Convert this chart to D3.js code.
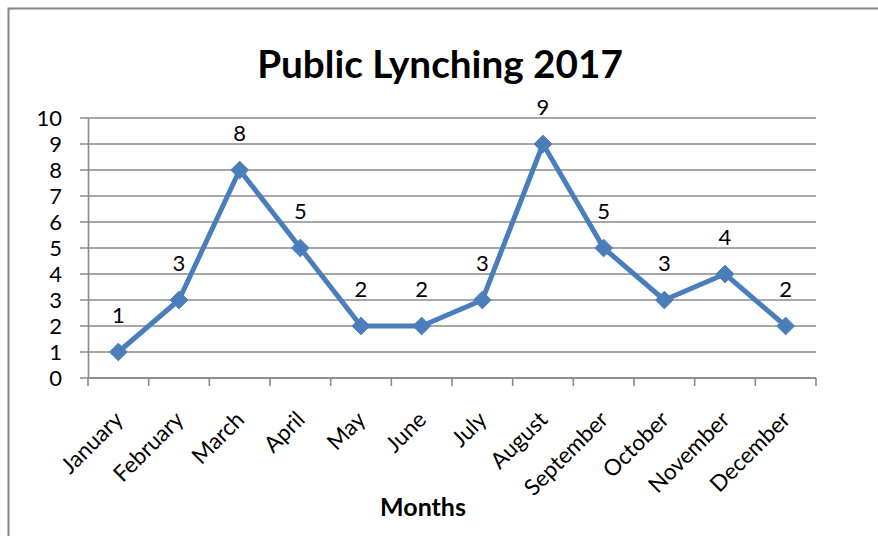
<!DOCTYPE html>
<html><head><meta charset="utf-8">
<script src="https://cdn.jsdelivr.net/npm/d3@7"></script>
<style>html,body{margin:0;padding:0;background:#fff;} svg{display:block;}</style>
</head><body>
<svg id="c" width="878" height="536"></svg>
<script>
const months = ["January","February","March","April","May","June","July","August","September","October","November","December"];
const values = [1,3,8,5,2,2,3,9,5,3,4,2];
const yTicks = [0,1,2,3,4,5,6,7,8,9,10];
const titleText = "Public Lynching 2017";
const xTitle = "Months";

(function(){
const svg = d3.select("#c");
const font = "Lato, 'Open Sans', sans-serif";
const pL = 88, pR = 816, pT = 118, pB = 378;

// frame
svg.append("path").attr("d","M8.5,536 L8.5,8.5 L878,8.5").attr("fill","none").attr("stroke","#868686").attr("stroke-width",2);

const x = d3.scaleBand().domain(months).range([pL,pR]);
const y = d3.scaleLinear().domain([0,10]).range([pB,pT]);

// gridlines
svg.append("g").selectAll("line").data(yTicks).join("line")
  .attr("x1",pL-8).attr("x2",pR).attr("y1",d=>y(d)).attr("y2",d=>y(d))
  .attr("stroke","#8a8a8a").attr("stroke-width",1.6);

// y axis
const ya = svg.append("g").attr("transform",`translate(${pL},0)`)
  .call(d3.axisLeft(y).tickValues(yTicks).tickSize(0).tickPadding(26));
ya.select(".domain").attr("stroke","#8a8a8a").attr("stroke-width",1.6);
ya.selectAll("text").attr("font-family",font).attr("font-size",22).attr("fill","#000");

// x axis
svg.append("line").attr("x1",pL).attr("x2",pR).attr("y1",pB).attr("y2",pB).attr("stroke","#8a8a8a").attr("stroke-width",1.6);
const tickPos = months.map(m=>x(m)).concat([pR]);
svg.append("g").selectAll("line").data(tickPos).join("line")
  .attr("x1",d=>d).attr("x2",d=>d).attr("y1",pB).attr("y2",pB+8)
  .attr("stroke","#8a8a8a").attr("stroke-width",1.6);

// x labels
svg.append("g").selectAll("text").data(months).join("text")
  .attr("transform",d=>`translate(${x(d)+x.bandwidth()/2+6},${pB+43}) rotate(-45)`)
  .attr("text-anchor","end").attr("font-family",font).attr("font-size",22.5).attr("fill","#000")
  .text(d=>d);

// line
const cx = i=>x(months[i])+x.bandwidth()/2;
svg.append("path").datum(values)
  .attr("d",d3.line().x((d,i)=>cx(i)).y(d=>y(d)))
  .attr("fill","none").attr("stroke","#4a7ebb").attr("stroke-width",5).attr("stroke-linejoin","round");

// markers
svg.append("g").selectAll("path").data(values).join("path")
  .attr("transform",(d,i)=>`translate(${cx(i)},${y(d)})`)
  .attr("d",d3.symbol().type(d3.symbolDiamond2).size(200))
  .attr("fill","#4a7ebb").attr("stroke","#4a7ebb").attr("stroke-width",1);

// data labels
svg.append("g").selectAll("text").data(values).join("text")
  .attr("x",(d,i)=>cx(i)).attr("y",d=>y(d)-29)
  .attr("text-anchor","middle").attr("font-family",font).attr("font-size",22).attr("fill","#000")
  .text(d=>d);

// titles
svg.append("text").attr("x",440).attr("y",78).attr("text-anchor","middle")
  .attr("font-family",font).attr("font-weight","bold").attr("font-size",38.7).attr("fill","#000").text(titleText);
svg.append("text").attr("x",423).attr("y",516).attr("text-anchor","middle")
  .attr("font-family",font).attr("font-weight","bold").attr("font-size",25).attr("fill","#000").text(xTitle);
})();
</script>
</body></html>
